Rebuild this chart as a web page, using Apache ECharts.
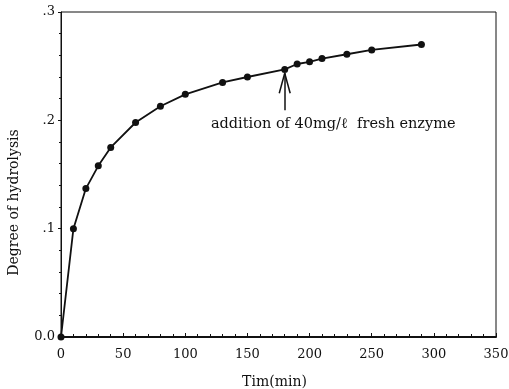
<!DOCTYPE html>
<html>
<head>
<meta charset="utf-8">
<script src="https://cdn.jsdelivr.net/npm/echarts@6/dist/echarts.min.js"></script>
<style>
  html, body { margin: 0; padding: 0; background: #fff; }
  #chart { width: 509px; height: 389px; }
</style>
</head>
<body>
<div id="chart"></div>
<script>
// Hydrolysis time course
const timeMin = [0, 10, 20, 30, 40, 60, 80, 100, 130, 150, 180, 190, 200, 210, 230, 250, 290];
const hydrolysis = [0, 0.100, 0.137, 0.158, 0.175, 0.198, 0.213, 0.224, 0.235, 0.240, 0.247, 0.252, 0.254, 0.257, 0.261, 0.265, 0.270];

// Enzyme addition note
const additionTime = 180;
const additionNote = 'addition of 40mg/\u2113  fresh enzyme';

const serif = '"DejaVu Serif", "Liberation Serif", serif';
const ink = '#111';

const chart = echarts.init(document.getElementById('chart'));

const pts = timeMin.map((t, i) => [t, hydrolysis[i]]);
const tipY = hydrolysis[timeMin.indexOf(additionTime)] - 0.0035;

chart.setOption({
  animation: false,
  grid: {
    left: 61, right: 13, top: 12, bottom: 52,
    outerBoundsMode: 'none',
    containLabel: false,
    show: true, borderColor: ink, borderWidth: 1
  },
  xAxis: {
    type: 'value',
    min: 0, max: 350, interval: 50,
    name: 'Tim(min)',
    nameLocation: 'middle',
    nameGap: 38,
    nameTextStyle: { fontFamily: serif, fontSize: 14, color: ink, padding: [0, 8, 0, 0] },
    axisLine: { lineStyle: { color: ink, width: 2 } },
    axisTick: { inside: true, length: 4, lineStyle: { color: ink, width: 1 } },
    minorTick: { show: true, splitNumber: 5, length: 3, lineStyle: { color: ink } },
    axisLabel: { fontFamily: serif, fontSize: 13, color: ink, margin: 11 },
    splitLine: { show: false }
  },
  yAxis: {
    type: 'value',
    min: 0, max: 0.3, interval: 0.1,
    name: 'Degree of hydrolysis',
    nameLocation: 'middle',
    nameGap: 40,
    nameTextStyle: { fontFamily: serif, fontSize: 14, color: ink, padding: [0, 56, 0, 0] },
    axisLine: { lineStyle: { color: ink, width: 1 } },
    axisTick: { inside: false, length: 3, lineStyle: { color: ink } },
    minorTick: { show: true, splitNumber: 5, length: 2, lineStyle: { color: ink } },
    axisLabel: {
      fontFamily: serif, fontSize: 13, color: ink, margin: 6,
      formatter: v => v === 0 ? '0.0' : '.' + Math.round(v * 10)
    },
    splitLine: { show: false }
  },
  series: [{
    type: 'line',
    data: pts,
    symbol: 'circle',
    symbolSize: 7,
    lineStyle: { color: ink, width: 1.8 },
    itemStyle: { color: ink },
    markLine: {
      silent: true,
      symbol: 'none',
      lineStyle: { color: ink, width: 1.5, type: 'solid' },
      label: { show: false },
      data: [
        [{ coord: [additionTime, 0.2094] }, { coord: [additionTime, tipY] }],
        [{ coord: [additionTime, tipY] }, { coord: [additionTime - 4.4, 0.225] }],
        [{ coord: [additionTime, tipY] }, { coord: [additionTime + 4.4, 0.225] }]
      ]
    },
    markPoint: {
      silent: true,
      symbol: 'circle',
      symbolSize: 0,
      label: {
        show: true,
        position: 'inside',
        formatter: additionNote,
        fontFamily: serif,
        fontSize: 14.5,
        color: ink
      },
      data: [{ coord: [219, 0.196] }]
    }
  }]
});
</script>
</body>
</html>
